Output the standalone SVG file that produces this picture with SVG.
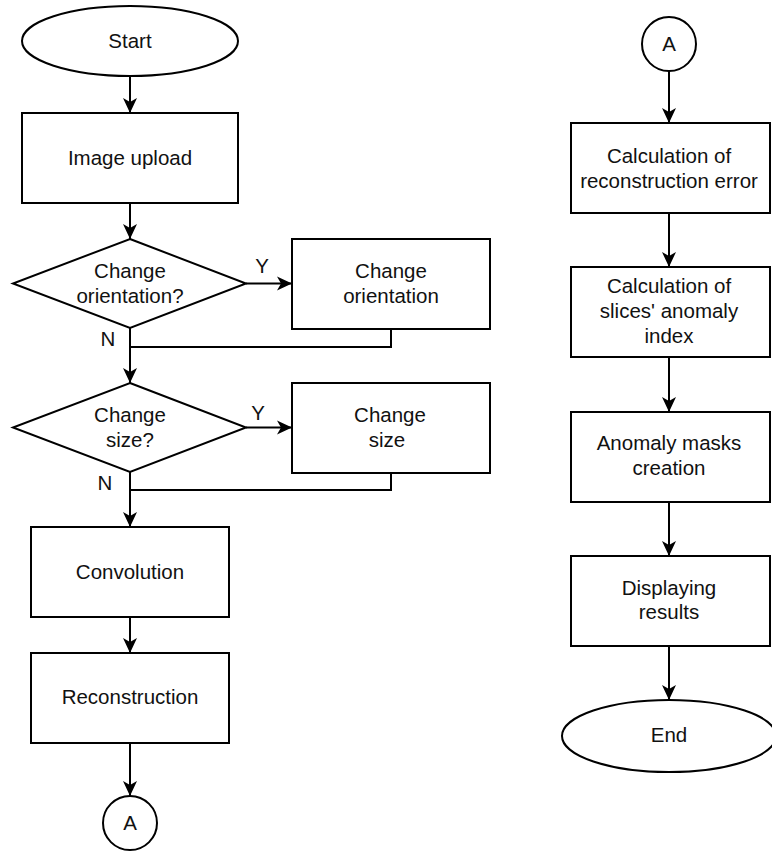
<svg xmlns="http://www.w3.org/2000/svg" width="772" height="852" viewBox="0 0 772 852">
<style>
.shape{fill:#fff;stroke:#000;stroke-width:2}
.edge{fill:none;stroke:#000;stroke-width:2}
text{font-family:"Liberation Sans",Arial,sans-serif;font-size:20.5px;fill:#111;text-anchor:middle}
</style>
<defs>
<marker id="arr" markerUnits="userSpaceOnUse" markerWidth="16" markerHeight="16" viewBox="-15 -8 16 16" refX="0" refY="0" orient="auto">
<path d="M-15,-7 L0,0 L-15,7 L-11,0 Z" fill="#000"/>
</marker>
</defs>
<rect width="772" height="852" fill="#fff"/>
<g id="connectors">
<line class="edge" x1="130" y1="76" x2="130" y2="113" marker-end="url(#arr)"/>
<line class="edge" x1="130" y1="203" x2="130" y2="239" marker-end="url(#arr)"/>
<line class="edge" x1="246" y1="283.5" x2="292" y2="283.5" marker-end="url(#arr)"/>
<text x="262" y="273">Y</text>
<line class="edge" x1="130" y1="328" x2="130" y2="383" marker-end="url(#arr)"/>
<text x="108" y="346">N</text>
<polyline class="edge" points="391,329 391,347 130,347"/>
<line class="edge" x1="246" y1="427.5" x2="292" y2="427.5" marker-end="url(#arr)"/>
<text x="258" y="420">Y</text>
<line class="edge" x1="130" y1="472" x2="130" y2="527" marker-end="url(#arr)"/>
<text x="105" y="490">N</text>
<polyline class="edge" points="391,473 391,490 130,490"/>
<line class="edge" x1="130" y1="617" x2="130" y2="653" marker-end="url(#arr)"/>
<line class="edge" x1="130" y1="743" x2="130" y2="796" marker-end="url(#arr)"/>
<line class="edge" x1="669" y1="71" x2="669" y2="123" marker-end="url(#arr)"/>
<line class="edge" x1="669" y1="213" x2="669" y2="267" marker-end="url(#arr)"/>
<line class="edge" x1="669" y1="357" x2="669" y2="412" marker-end="url(#arr)"/>
<line class="edge" x1="669" y1="502" x2="669" y2="556" marker-end="url(#arr)"/>
<line class="edge" x1="669" y1="646" x2="669" y2="700" marker-end="url(#arr)"/>
</g>
<g id="start">
<ellipse class="shape" cx="130" cy="41" rx="108" ry="35"/>
<text x="130" y="48">Start</text>
</g>
<g id="image-upload">
<rect class="shape" x="22" y="113" width="216" height="90"/>
<text x="130" y="165">Image upload</text>
</g>
<g id="decision-orientation">
<polygon class="shape" points="130,239 246,283.5 130,328 13,283.5"/>
<text x="130" y="278">Change</text>
<text x="130" y="303">orientation?</text>
</g>
<g id="change-orientation">
<rect class="shape" x="292" y="239" width="198" height="90"/>
<text x="391" y="278">Change</text>
<text x="391" y="303">orientation</text>
</g>
<g id="decision-size">
<polygon class="shape" points="130,383 246,427.5 130,472 13,427.5"/>
<text x="130" y="422">Change</text>
<text x="130" y="447">size?</text>
</g>
<g id="change-size">
<rect class="shape" x="292" y="383" width="198" height="90"/>
<text x="390" y="422">Change</text>
<text x="387" y="447">size</text>
</g>
<g id="convolution">
<rect class="shape" x="31" y="527" width="198" height="90"/>
<text x="130" y="579">Convolution</text>
</g>
<g id="reconstruction">
<rect class="shape" x="31" y="653" width="198" height="90"/>
<text x="130" y="704">Reconstruction</text>
</g>
<g id="connector-a-out">
<circle class="shape" cx="130" cy="823" r="27"/>
<text x="130" y="830">A</text>
</g>
<g id="connector-a-in">
<circle class="shape" cx="669" cy="44" r="27"/>
<text x="669" y="51">A</text>
</g>
<g id="calc-error">
<rect class="shape" x="571" y="123" width="199" height="90"/>
<text x="669" y="163">Calculation of</text>
<text x="669" y="188">reconstruction error</text>
</g>
<g id="calc-index">
<rect class="shape" x="571" y="267" width="199" height="90"/>
<text x="669" y="293">Calculation of</text>
<text x="669" y="318">slices' anomaly</text>
<text x="669" y="343">index</text>
</g>
<g id="masks">
<rect class="shape" x="571" y="412" width="199" height="90"/>
<text x="669" y="450">Anomaly masks</text>
<text x="669" y="475">creation</text>
</g>
<g id="display">
<rect class="shape" x="571" y="556" width="199" height="90"/>
<text x="669" y="595">Displaying</text>
<text x="669" y="619">results</text>
</g>
<g id="end">
<ellipse class="shape" cx="669" cy="736" rx="107" ry="36"/>
<text x="669" y="742">End</text>
</g>
</svg>
